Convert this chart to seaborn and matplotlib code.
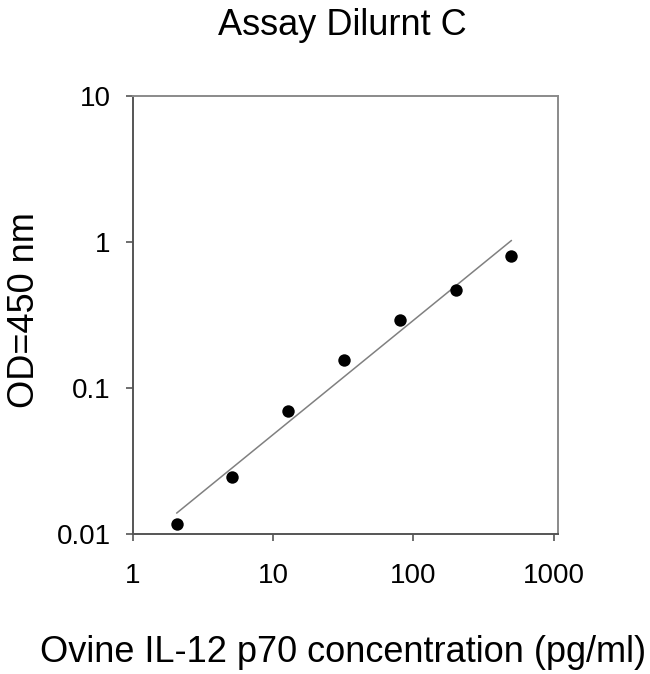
import numpy as np
import pandas as pd
import matplotlib
matplotlib.use("Agg")
import matplotlib.pyplot as plt
import seaborn as sns

# Standard curve data
concentration = [2.048, 5.12, 12.8, 32, 80, 200, 500]
od450 = [0.0117, 0.0247, 0.0694, 0.155, 0.294, 0.472, 0.806]
x_ticks = [1, 10, 100, 1000]
x_tick_labels = ["1", "10", "100", "1000"]
y_ticks = [0.01, 0.1, 1, 10]
y_tick_labels = ["0.01", "0.1", "1", "10"]

df = pd.DataFrame({"conc": concentration, "od": od450})

# Power fit in log-log space
slope, intercept = np.polyfit(np.log10(df["conc"]), np.log10(df["od"]), 1)
fit_x = np.array([min(concentration), max(concentration)])
fit_y = 10 ** (intercept + slope * np.log10(fit_x))

sns.set_style("ticks")
plt.rcParams["font.family"] = ["Liberation Sans", "DejaVu Sans"]
plt.rcParams["text.color"] = "black"
plt.rcParams["axes.labelcolor"] = "black"
plt.rcParams["xtick.labelcolor"] = "black"
plt.rcParams["ytick.labelcolor"] = "black"
label_fs = 26
tick_fs = 20

fig = plt.figure(figsize=(6.5, 6.74), dpi=100)
ax = fig.add_axes([0.2046, 0.2073, 0.654, 0.6507])

sns.lineplot(x=fit_x, y=fit_y, ax=ax, color="#808080", linewidth=1.1)
sns.scatterplot(data=df, x="conc", y="od", ax=ax, color="black", s=80,
                edgecolor="black", linewidth=0, zorder=3)

ax.set_xscale("log")
ax.set_yscale("log")
ax.set_xlim(1, 1075)
ax.set_ylim(0.01, 10)
ax.set_xticks(x_ticks)
ax.set_xticklabels(x_tick_labels)
ax.set_yticks(y_ticks)
ax.set_yticklabels(y_tick_labels)
ax.minorticks_off()
ax.tick_params(axis="both", labelsize=tick_fs, length=5, width=1.2,
               color="#555555", labelcolor="black")
ax.tick_params(axis="x", pad=16)
ax.tick_params(axis="y", pad=11)

for side in ["left", "bottom"]:
    ax.spines[side].set_color("#555555")
    ax.spines[side].set_linewidth(1.4)
for side in ["top", "right"]:
    ax.spines[side].set_visible(True)
    ax.spines[side].set_color("#8a8a8a")
    ax.spines[side].set_linewidth(1.4)

ax.set_xlabel("Ovine IL-12 p70 concentration (pg/ml)", fontsize=label_fs)
ax.set_ylabel("OD=450 nm", fontsize=label_fs)
ax.xaxis.set_label_coords(0.493, -0.229)
ax.yaxis.set_label_coords(-0.214, 0.511)
fig.text(342 / 650, 1 - 35 / 674, "Assay Dilurnt C", fontsize=label_fs,
         ha="center", va="baseline")

fig.savefig("out.png", dpi=100)
